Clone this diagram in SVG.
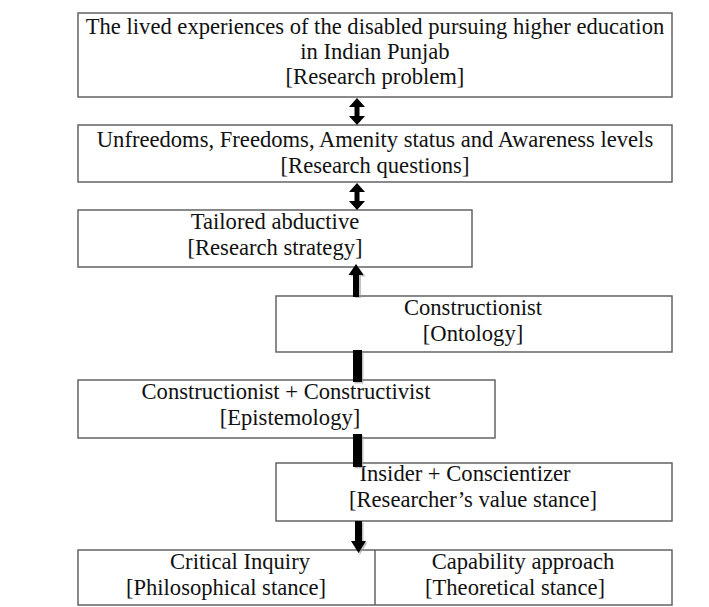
<svg xmlns="http://www.w3.org/2000/svg" width="709" height="607" viewBox="0 0 709 607">
  <style>
    .box { fill: #ffffff; stroke: #595959; stroke-width: 1.4; }
    .t { font-family: 'Liberation Serif', 'Times New Roman', Tinos, 'DejaVu Serif', serif; font-size: 22.6px; fill: #111111; text-anchor: middle; }
    .arrow { fill: #000000; }
    .shadow { fill: #9a9a9a; opacity: 0.6; }
  </style>
  <rect width="709" height="607" fill="#ffffff"/>

  <g id="research-problem">
    <rect class="box" x="78" y="13" width="594" height="84"/>
    <text class="t" x="375" y="34">The lived experiences of the disabled pursuing higher education</text>
    <text class="t" x="375" y="59">in Indian Punjab</text>
    <text class="t" x="375" y="84">[Research problem]</text>
  </g>

  <g id="research-questions">
    <rect class="box" x="78" y="125" width="594" height="57"/>
    <text class="t" x="375" y="147">Unfreedoms, Freedoms, Amenity status and Awareness levels</text>
    <text class="t" x="375" y="173">[Research questions]</text>
  </g>

  <g id="research-strategy">
    <rect class="box" x="78" y="210" width="394" height="57"/>
    <text class="t" x="275" y="229">Tailored abductive</text>
    <text class="t" x="275" y="255">[Research strategy]</text>
  </g>

  <g id="ontology">
    <rect class="box" x="276" y="296" width="396" height="56"/>
    <text class="t" x="473" y="315">Constructionist</text>
    <text class="t" x="473" y="341">[Ontology]</text>
  </g>

  <g id="epistemology">
    <rect class="box" x="78" y="380" width="417" height="58"/>
    <text class="t" x="286" y="399">Constructionist + Constructivist</text>
    <text class="t" x="290" y="425">[Epistemology]</text>
  </g>

  <g id="value-stance">
    <rect class="box" x="276" y="463" width="396" height="58"/>
    <text class="t" x="465" y="481">Insider + Conscientizer</text>
    <text class="t" x="473" y="507">[Researcher’s value stance]</text>
  </g>

  <g id="stances">
    <rect class="box" x="78" y="550" width="594" height="55"/>
    <line x1="375" y1="550" x2="375" y2="605" stroke="#595959" stroke-width="1.4"/>
    <text class="t" x="240" y="569">Critical Inquiry</text>
    <text class="t" x="226" y="595">[Philosophical stance]</text>
    <text class="t" x="523" y="569">Capability approach</text>
    <text class="t" x="515" y="595">[Theoretical stance]</text>
  </g>

  <g id="connectors">
    <!-- double-headed: problem <-> questions -->
    <polygon class="arrow" points="357,98 365,107 359.5,107 359.5,116 365,116 357,125 349,116 354.5,116 354.5,107 349,107"/>
    <!-- double-headed: questions <-> strategy -->
    <polygon class="arrow" points="357,183 365,192 359.5,192 359.5,201 365,201 357,210 349,201 354.5,201 354.5,192 349,192"/>
    <!-- up arrow: ontology -> strategy -->
    <polygon class="shadow" points="357.5,265.5 365.5,276.5 361,276.5 361,298 355,298 355,276.5 350.5,276.5"/>
    <polygon class="arrow" points="356,264 363.5,275 359,275 359,297 353,297 353,275 348.5,275"/>
    <!-- bar: ontology - epistemology -->
    <rect class="shadow" x="354.5" y="351.5" width="9" height="32"/>
    <rect class="arrow" x="353" y="350" width="9" height="32"/>
    <!-- bar: epistemology - value stance -->
    <rect class="shadow" x="354.5" y="435.5" width="9" height="33"/>
    <rect class="arrow" x="353" y="434" width="9" height="33"/>
    <!-- down arrow: value stance -> stances -->
    <polygon class="shadow" points="356.5,522.5 363.5,522.5 363.5,542.5 367.5,542.5 360,554.5 352.5,542.5 356.5,542.5"/>
    <polygon class="arrow" points="355,521 362,521 362,541 366,541 358.5,553 351,541 355,541"/>
  </g>
</svg>
